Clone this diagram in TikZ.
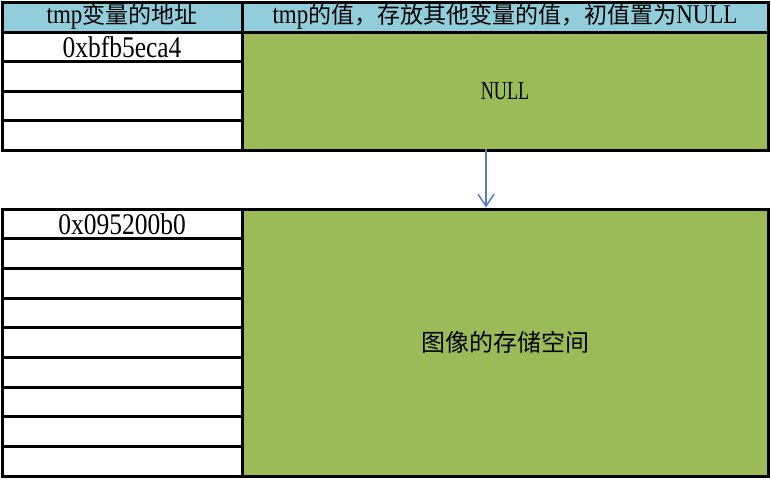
\documentclass[tikz,border=0pt]{standalone}
\usepackage{fontspec}
\setmainfont{Liberation Serif}[FakeStretch=0.85]
\newfontfamily\cjk{Noto Sans CJK SC}
\usetikzlibrary{arrows.meta}
\definecolor{hdrblue}{RGB}{146,205,220}
\definecolor{cellgreen}{RGB}{155,187,89}
\definecolor{arrblue}{RGB}{79,129,189}
\tikzset{
  cell/.style={draw=black, line width=3pt, fill=white, anchor=north west,
    inner sep=0pt, outer sep=0pt, minimum width=240pt, font=\fontsize{30}{32}\selectfont},
  hdr/.style={cell, fill=hdrblue, minimum height=30pt, font=\fontsize{27}{30}\selectfont},
  green/.style={cell, fill=cellgreen, minimum width=526pt},
  ptr/.style={draw=arrblue, line width=1.5pt, -{Straight Barb[length=12pt,width=16pt,line width=1.5pt]}},
}
\newcommand{\cj}[1]{{\cjk\fontsize{23}{28}\selectfont #1}}
\begin{document}
\begin{tikzpicture}[x=1pt,y=-1pt]
\useasboundingbox (0,0) rectangle (771,480);
\fill[white] (0,0) rectangle (771,480);
% top table
\node[hdr] (h1) at (2,2) {tmp\cj{变量的地址}};
\node[hdr, minimum width=526pt] (h2) at (242,2) {tmp\cj{的值，存放其他变量的值，初值置为}NULL};
\node[green, minimum height=118pt, font=\fontsize{26}{28}\selectfont] (v) at (242,32) {\scalebox{0.82}[1]{NULL}};
\node[cell, minimum height=29.5pt] (a1) at (2,32) {0xbfb5eca4};
\node[cell, minimum height=29.5pt] (a2) at (2,61.5) {};
\node[cell, minimum height=29.5pt] (a3) at (2,91) {};
\node[cell, minimum height=29.5pt] (a4) at (2,120.5) {};
% bottom table
\node[green, minimum height=267pt] (s) at (242,209) {\cj{\fontsize{24}{28}\selectfont 图像的存储空间}};
\node[cell, minimum height=29.67pt] (b1) at (2,209) {0x095200b0};
\node[cell, minimum height=29.67pt] (b2) at (2,238.67) {};
\node[cell, minimum height=29.67pt] (b3) at (2,268.33) {};
\node[cell, minimum height=29.67pt] (b4) at (2,298) {};
\node[cell, minimum height=29.67pt] (b5) at (2,327.67) {};
\node[cell, minimum height=29.67pt] (b6) at (2,357.33) {};
\node[cell, minimum height=29.67pt] (b7) at (2,387) {};
\node[cell, minimum height=29.67pt] (b8) at (2,416.67) {};
\node[cell, minimum height=29.67pt] (b9) at (2,446.33) {};
% pointer
\coordinate (p1) at ([xshift=244pt,yshift=1.5pt]v.south west);
\coordinate (p2) at ([xshift=244pt,yshift=1.5pt]s.north west);
\draw[ptr] (p1) -- (p2);
\end{tikzpicture}
\end{document}
